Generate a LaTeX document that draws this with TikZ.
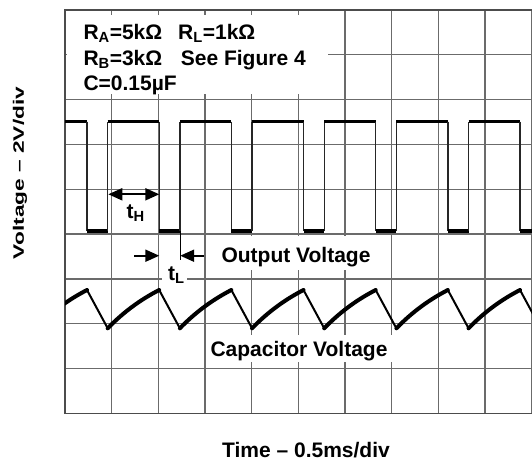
\documentclass[tikz,border=0pt]{standalone}
\usepackage{fontspec}
\setmainfont{Liberation Sans}
\usetikzlibrary{arrows.meta}
\definecolor{gridc}{gray}{0.42}
\definecolor{framec}{gray}{0.3}
\tikzset{
  gridline/.style={draw=gridc, line width=1.3pt},
  frameline/.style={draw=framec, line width=1.5pt},
  lbl/.style={inner sep=0pt, font=\bfseries\fontsize{21}{25}\selectfont},
  axlbl/.style={inner sep=0pt, font=\bfseries\fontsize{21}{25}\selectfont},
  level/.style={draw=black, line width=3.3pt},
  edge/.style={draw=black!85, line width=1.3pt},
  charge/.style={draw=black, line width=4pt, line cap=round, line join=round},
  discharge/.style={draw=black, line width=2pt, line cap=round},
  dimarrow/.style={draw=black, line width=2pt},
  marker/.style={draw=black, line width=1.2pt},
  blank/.style={fill=white, draw=none},
  headtip/.tip={Triangle[length=14pt,width=12pt]}
}
\begin{document}
\begin{tikzpicture}[x=1pt, y=-1pt]
\useasboundingbox (0,0) rectangle (532,464);
\fill[white] (0,0) rectangle (532,464);
% grid
\foreach \i in {1,...,10} \draw[gridline] ({65+46.67*\i},10) -- ({65+46.67*\i},413.3);
\foreach \j in {1,...,8} \draw[gridline] (65,{10+44.81*\j}) -- (532,{10+44.81*\j});
\draw[frameline] (532,10) -- (65,10) -- (65,413.3) -- (532,413.3);
% white backgrounds of labels
\fill[blank] (67,15) rectangle (328,94);
\fill[blank] (216,236) rectangle (374,270);
\fill[blank] (206,335) rectangle (392,362);
\fill[blank] (162,271) rectangle (187,287);
% parameter text
\node[lbl, anchor=base west] (ra) at (83.3,39) {R\textsubscript{A}=5kΩ};
\node[lbl, anchor=base west] (rl) at (178,39) {R\textsubscript{L}=1kΩ};
\node[lbl, anchor=base west] (rb) at (83.3,65.7) {R\textsubscript{B}=3kΩ};
\node[lbl, anchor=base west] (fig) at (180.7,65.7) {See Figure 4};
\node[lbl, anchor=base west] (cval) at (83.3,90) {C=0.15µF};
% trace labels
\node[lbl, anchor=base] (outv) at (296,262.5) {Output Voltage};
\node[lbl, anchor=base] (capv) at (299,356) {Capacitor Voltage};
\node[lbl, anchor=base west] (th) at (126.5,218.3) {t\textsubscript{H}};
\node[lbl, anchor=base west] (tl) at (168,280) {t\textsubscript{L}};
% axis labels
\node[axlbl, rotate=90] (ylab) at (20,173) {\scalebox{1.08}[0.72]{Voltage – 2V/div}};
\node[axlbl] (xlab) at (306,450) {Time – 0.5ms/div};
% waveforms
\begin{scope}
\clip (65,0) rectangle (532,464);
\draw[level] (60,121.7) -- (87,121.7);
\foreach \k in {0,...,6} {
  \pgfmathsetmacro\f{87+72.17*\k}
  \pgfmathsetmacro\r{\f+20.7}
  \pgfmathsetmacro\n{\f+72.17}
  \draw[edge] (\f,121.7) -- (\f,231);
  \draw[level] (\f,231) -- (\r,231);
  \draw[edge] (\r,231) -- (\r,121.7);
  \draw[level] (\r,121.7) -- (\n,121.7);
}
\foreach \k in {-1,...,6} {
  \pgfmathsetmacro\t{107.7+72.17*\k}
  \pgfmathsetmacro\p{\t+51.47}
  \pgfmathsetmacro\q{\p+20.7}
  \draw[charge] (\t,328.3) .. controls ({\t+17.2},310.6) and ({\t+34.3},298.9) .. (\p,290);
  \draw[discharge] (\p,290) -- (\q,328.3);
}
\end{scope}
% timing markers
\coordinate (thl) at (108.3,194.3);
\coordinate (thr) at (159.3,194.3);
\draw[dimarrow, headtip-headtip] (thl) -- (thr);
\coordinate (tla) at (134,255.7);
\coordinate (tlb) at (159.3,255.7);
\coordinate (tlc) at (204,255.7);
\coordinate (tld) at (180.2,255.7);
\coordinate (mk1) at (180.2,231);
\coordinate (mk2) at (180.2,260);
\draw[dimarrow, -headtip] (tla) -- (tlb);
\draw[dimarrow, -headtip] (tlc) -- (tld);
\draw[marker] (mk1) -- (mk2);
\end{tikzpicture}
\end{document}
